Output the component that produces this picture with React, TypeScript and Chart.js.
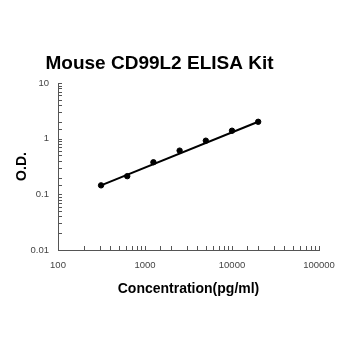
import React, { useEffect, useRef } from "react";
import { Chart, registerables } from "chart.js";

Chart.register(...registerables);

const concentrations = [312.5, 625, 1250, 2500, 5000, 10000, 20000];
const odValues = [0.145, 0.212, 0.377, 0.61, 0.92, 1.39, 2.01];
const fitX = [312.5, 20000];
const fitY = [0.145, 2.01];
const titleText = "Mouse CD99L2 ELISA Kit";
const xTitle = "Concentration(pg/ml)";
const yTitle = "O.D.";

const isPow10 = (v: number) => {
  const l = Math.log10(v);
  return Math.abs(l - Math.round(l)) < 1e-9;
};

const innerTicks = {
  id: "innerTicks",
  afterDraw(chart: any) {
    const ctx = chart.ctx;
    const area = chart.chartArea;
    ctx.save();
    ctx.strokeStyle = "#555";
    ctx.lineWidth = 1;
    const xs = chart.scales.x;
    xs.ticks.forEach((t: any) => {
      const px = Math.round(xs.getPixelForValue(t.value)) + 0.5;
      ctx.beginPath();
      ctx.moveTo(px, area.bottom);
      ctx.lineTo(px, area.bottom - 4);
      ctx.stroke();
    });
    const ys = chart.scales.y;
    ys.ticks.forEach((t: any) => {
      const py = Math.round(ys.getPixelForValue(t.value)) + 0.5;
      ctx.beginPath();
      ctx.moveTo(area.left, py);
      ctx.lineTo(area.left + 4, py);
      ctx.stroke();
    });
    ctx.restore();
  },
};

export default function App() {
  const ref = useRef<HTMLCanvasElement>(null);
  useEffect(() => {
    if (!ref.current) return;
    const chart = new Chart(ref.current, {
      type: "scatter",
      data: {
        datasets: [
          {
            data: fitX.map((x, i) => ({ x, y: fitY[i] })),
            showLine: true,
            borderColor: "#000",
            borderWidth: 2,
            pointRadius: 0,
          },
          {
            data: concentrations.map((x, i) => ({ x, y: odValues[i] })),
            backgroundColor: "#000",
            borderColor: "#000",
            pointRadius: 2.7,
          },
        ],
      },
      options: {
        responsive: false,
        animation: false,
        layout: { padding: { top: 0, left: 0, right: 31, bottom: 0 } },
        plugins: {
          legend: { display: false },
          tooltip: { enabled: false },
          title: {
            display: true,
            text: titleText,
            color: "#000",
            font: { family: "'Liberation Sans', Arial, sans-serif", size: 19, weight: "bold" },
            padding: { top: 52.4, bottom: 7.8 },
          },
        },
        scales: {
          x: {
            type: "logarithmic",
            min: 100,
            max: 100000,
            afterFit: (s: any) => {
              s.height = 100;
            },
            grid: { display: false, drawTicks: false },
            border: { display: true, color: "#555", width: 1 },
            ticks: {
              autoSkip: false,
              maxRotation: 0,
              padding: 10,
              color: "#444",
              font: { family: "'Liberation Sans', Arial, sans-serif", size: 9.5 },
              callback: (v: any) => (isPow10(Number(v)) ? String(Number(v)) : ""),
            },
            title: {
              display: true,
              text: xTitle,
              color: "#000",
              font: { family: "'Liberation Sans', Arial, sans-serif", size: 14, weight: "bold" },
              padding: { top: 0, bottom: 52.6 },
            },
          },
          y: {
            type: "logarithmic",
            min: 0.01,
            max: 10,
            afterFit: (s: any) => {
              s.width = 58;
            },
            grid: { display: false, drawTicks: false },
            border: { display: true, color: "#555", width: 1 },
            ticks: {
              autoSkip: false,
              padding: 9,
              color: "#444",
              font: { family: "'Liberation Sans', Arial, sans-serif", size: 9.5 },
              callback: (v: any) => (isPow10(Number(v)) ? String(Number(v)) : ""),
            },
            title: {
              display: true,
              text: yTitle,
              color: "#000",
              font: { family: "'Liberation Sans', Arial, sans-serif", size: 14, weight: "bold" },
              padding: { top: 14.2, bottom: 0 },
            },
          },
        },
      },
      plugins: [innerTicks],
    });
    return () => chart.destroy();
  }, []);
  return (
    <div style={{ position: "fixed", left: 0, top: 0, width: 350, height: 350, background: "#fff" }}>
      <canvas ref={ref} width={350} height={350} />
    </div>
  );
}
